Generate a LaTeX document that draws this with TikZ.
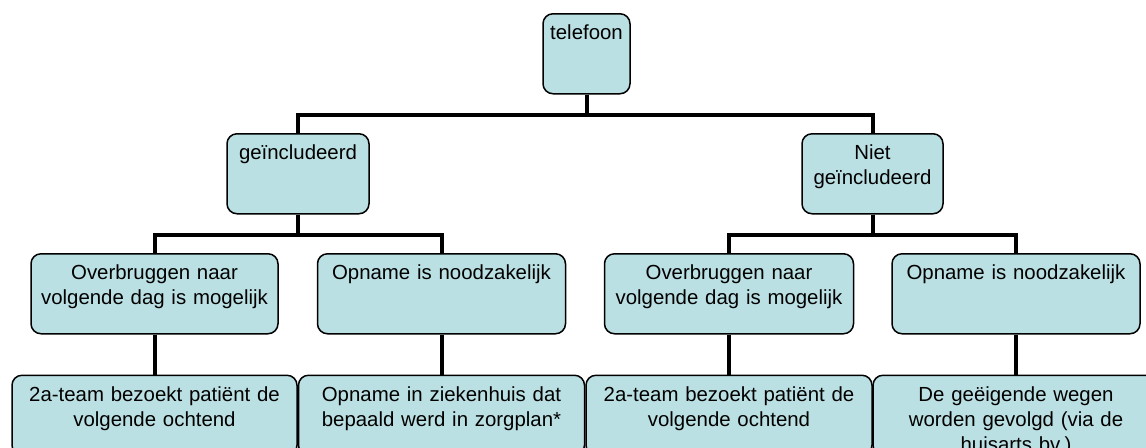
\documentclass[tikz,border=0pt]{standalone}
\usepackage{fontspec}
\setmainfont{Liberation Sans}
\usetikzlibrary{positioning}
\definecolor{boxCol}{HTML}{BBE0E3}

\begin{document}
\begin{tikzpicture}[
    % Node styles
    orgbox/.style={
        rectangle,
        rounded corners=5pt,
        draw=black,
        fill=boxCol,
        line width=0.75pt,
        font=\fontsize{10.2}{12.5}\selectfont,
        align=center,
        text width=#1,
        inner xsep=0pt,
        inner ysep=0pt,
        text height=13pt,
        text depth=27pt
    },
    conn/.style={
        line width=2pt,
        draw=black
    }
]

    \useasboundingbox (0,0) rectangle (573pt,-223.5pt);
    \clip (0,0) rectangle (573pt,-223.5pt);

    % ==== TOP ====
    \node[orgbox=43.5pt, anchor=north] (tel) at (293.25pt,-6.5pt) {telefoon};

    % ==== SECOND ROW ====
    \node[orgbox=71pt, anchor=north] (incl) at (149pt,-66.5pt) {geïncludeerd};
    \node[orgbox=70.5pt, anchor=north] (niet) at (436.25pt,-66.5pt) {Niet\\geïncludeerd};

    % ==== THIRD ROW ====
    \node[orgbox=123.5pt, anchor=north] (inclbrug) at (77.25pt,-126.5pt) {Overbruggen naar\\volgende dag is mogelijk};
    \node[orgbox=124pt, anchor=north] (inclopn) at (220.75pt,-126.5pt) {Opname is noodzakelijk};
    \node[orgbox=124.5pt, anchor=north] (nietbrug) at (364.5pt,-126.5pt) {Overbruggen naar\\volgende dag is mogelijk};
    \node[orgbox=124pt, anchor=north] (nietopn) at (508pt,-126.5pt) {Opname is noodzakelijk};

    % ==== BOTTOM ROW ====
    \node[orgbox=142.5pt, below=20pt of inclbrug] (inclbezoek) {2a-team bezoekt patiënt de\\volgende ochtend};
    \node[orgbox=143pt, below=20pt of inclopn] (inclzh) {Opname in ziekenhuis dat\\bepaald werd in zorgplan*};
    \node[orgbox=143pt, below=20pt of nietbrug] (nietbezoek) {2a-team bezoekt patiënt de\\volgende ochtend};
    \node[orgbox=143pt, below=20pt of nietopn] (nietweg) {De geëigende wegen\\worden gevolgd (via de\\huisarts bv.)};

    % ==== CONNECTIONS ====
    \draw[conn] (tel.south) -- ++(0,-10pt) -| (incl.north);
    \draw[conn] (tel.south) -- ++(0,-10pt) -| (niet.north);

    \draw[conn] (incl.south) -- ++(0,-10pt) -| (inclbrug.north);
    \draw[conn] (incl.south) -- ++(0,-10pt) -| (inclopn.north);
    \draw[conn] (niet.south) -- ++(0,-10pt) -| (nietbrug.north);
    \draw[conn] (niet.south) -- ++(0,-10pt) -| (nietopn.north);

    \draw[conn] (inclbrug) -- (inclbezoek);
    \draw[conn] (inclopn) -- (inclzh);
    \draw[conn] (nietbrug) -- (nietbezoek);
    \draw[conn] (nietopn) -- (nietweg);

\end{tikzpicture}
\end{document}
